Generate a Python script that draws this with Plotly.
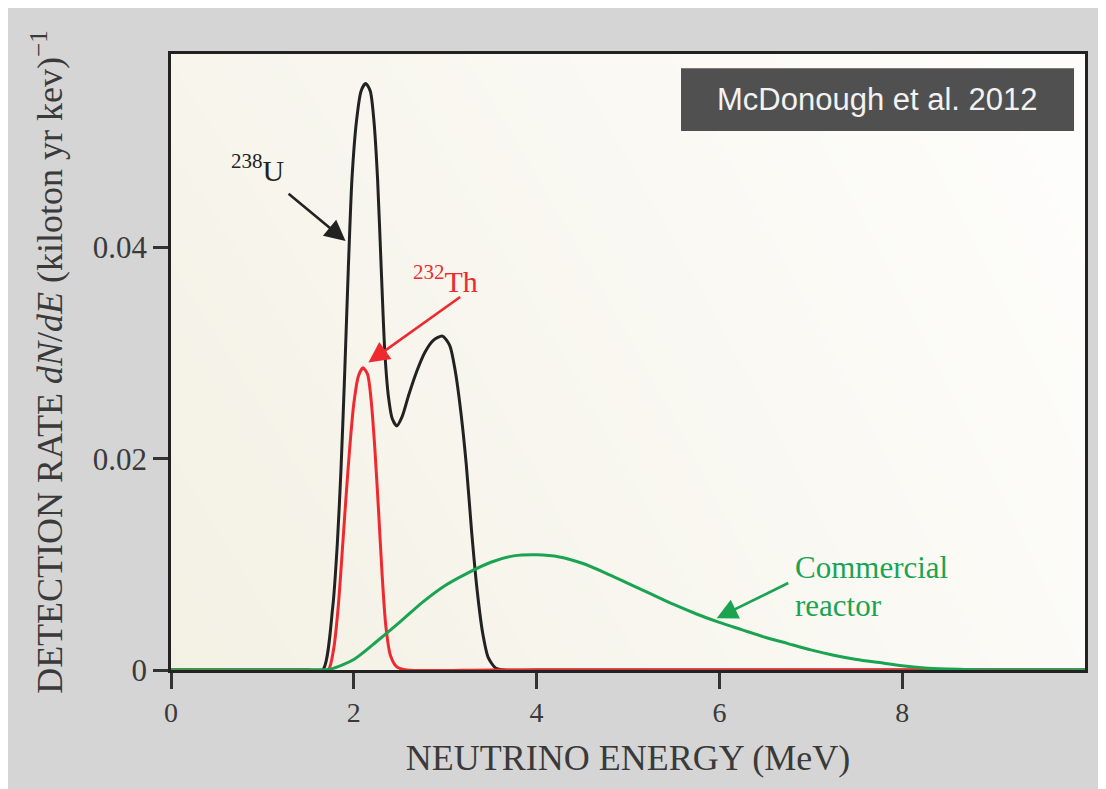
import plotly.graph_objects as go

# --- data ---
u_energy = [0, 1.5, 1.66, 1.77, 1.82, 1.86, 1.90, 1.94, 1.98, 2.03, 2.08, 2.13, 2.18, 2.22,
            2.26, 2.30, 2.34, 2.38, 2.42, 2.47, 2.53, 2.60, 2.69, 2.78, 2.87, 2.97, 3.05,
            3.11, 3.17, 3.23, 3.29, 3.35, 3.41, 3.47, 3.55, 3.65, 4.0, 6.0, 10]
u_rate = [0, 0, 0, 0.006, 0.012, 0.019, 0.028, 0.038, 0.0465, 0.052, 0.0548, 0.0555,
          0.0548, 0.052, 0.0465, 0.038, 0.030, 0.0258, 0.0238, 0.0231, 0.0240, 0.0260,
          0.0283, 0.0301, 0.0312, 0.0316, 0.0307, 0.0283, 0.0245, 0.0195, 0.0130, 0.0075,
          0.0035, 0.0012, 0.0002, 0, 0, 0, 0]

th_energy = [0, 1.6, 1.72, 1.78, 1.83, 1.88, 1.92, 1.96, 2.00, 2.05, 2.10, 2.15, 2.19,
             2.23, 2.27, 2.31, 2.35, 2.40, 2.47, 2.58, 3.5, 6.0, 10]
th_rate = [0, 0, 0, 0.002, 0.006, 0.012, 0.017, 0.0215, 0.0252, 0.0278, 0.0286, 0.0280,
           0.0255, 0.0210, 0.0152, 0.0090, 0.0042, 0.0014, 0.0003, 0, 0, 0, 0]

reactor_energy = [0, 1.0, 1.5, 1.75, 2.0, 2.25, 2.5, 2.75, 3.0, 3.25, 3.5, 3.75, 4.0, 4.25,
                  4.5, 4.75, 5.0, 5.25, 5.5, 5.75, 6.0, 6.25, 6.5, 6.75, 7.0, 7.25, 7.5,
                  7.75, 8.0, 8.25, 8.5, 8.75, 9.0, 9.5, 10]
reactor_rate = [0, 0, 0, 0.0001, 0.001, 0.0027, 0.0045, 0.0064, 0.0080, 0.0092, 0.0102,
                0.0108, 0.0109, 0.0107, 0.0101, 0.0092, 0.0082, 0.0072, 0.0062, 0.0053,
                0.0045, 0.0038, 0.0031, 0.0025, 0.0019, 0.0014, 0.0010, 0.0007, 0.0004,
                0.0002, 0.0001, 0.00003, 0, 0, 0]

x_ticks = [0, 2, 4, 6, 8]
x_ticktext = ["0", "2", "4", "6", "8"]
y_ticks = [0, 0.02, 0.04]
y_ticktext = ["0", "0.02", "0.04"]

X_RANGE = [0, 10]
Y_RANGE = [0, 0.0583]

SERIF = "Liberation Serif"
BLACK = "#222222"
RED = "#ee2a30"
GREEN = "#1aa452"

fig = go.Figure()

# background gradient of the plot area (decoration)
fig.add_trace(go.Heatmap(
    x=[-1, 11], y=[-0.01, 0.07],
    z=[[0.0, 0.75], [0.35, 1.0]],
    colorscale=[[0, "#f2efe1"], [1, "#ffffff"]],
    zsmooth="best", showscale=False, hoverinfo="skip",
))

fig.add_trace(go.Scatter(x=u_energy, y=u_rate, mode="lines", line=dict(color=BLACK, width=3, shape="spline", smoothing=0.7), name="238U"))
fig.add_trace(go.Scatter(x=th_energy, y=th_rate, mode="lines", line=dict(color=RED, width=3, shape="spline", smoothing=0.7), name="232Th"))
fig.add_trace(go.Scatter(x=reactor_energy, y=reactor_rate, mode="lines", line=dict(color=GREEN, width=3, shape="spline", smoothing=0.7), name="reactor"))

ann = []
# labels
ann.append(dict(x=0.95, y=0.0475, xref="x", yref="y", text="<sup>238</sup>U", showarrow=False,
                font=dict(family=SERIF, size=30, color=BLACK)))
ann.append(dict(x=3.0, y=0.0370, xref="x", yref="y", text="<sup>232</sup>Th", showarrow=False,
                font=dict(family=SERIF, size=30, color=RED)))
ann.append(dict(x=6.82, y=0.0097, xref="x", yref="y", text="Commercial", showarrow=False,
                xanchor="left", borderpad=0, font=dict(family=SERIF, size=31, color=GREEN)))
ann.append(dict(x=6.82, y=0.0061, xref="x", yref="y", text="reactor", showarrow=False,
                xanchor="left", borderpad=0, font=dict(family=SERIF, size=31, color=GREEN)))
# arrows
for (tx, ty, hx, hy, col) in [(1.27, 0.0452, 1.91, 0.0406, BLACK),
                              (3.18, 0.0354, 2.16, 0.0291, RED),
                              (6.77, 0.0083, 5.97, 0.0049, GREEN)]:
    ann.append(dict(x=hx, y=hy, ax=tx, ay=ty, xref="x", yref="y", axref="x", ayref="y",
                    text="", showarrow=True, arrowhead=2, arrowsize=1.6, arrowwidth=2.6,
                    arrowcolor=col))
# source box text
ann.append(dict(x=0.773, y=0.926, xref="paper", yref="paper", xanchor="center", yanchor="middle",
                text="McDonough et al. 2012",
                showarrow=False, font=dict(family="Liberation Sans", size=31, color="#f2f2f2")))

shapes = [
    dict(type="rect", xref="paper", yref="paper", x0=0.558, x1=0.988, y0=0.875, y1=0.977,
         fillcolor="#505050", line=dict(width=0), layer="above"),
]

fig.update_layout(
    width=1098, height=781,
    margin=dict(l=163, r=21, t=46, b=119, autoexpand=False),
    paper_bgcolor="#d5d5d5",
    plot_bgcolor="#f6f4ea",
    showlegend=False,
    annotations=ann,
    shapes=shapes,
    font=dict(family=SERIF, color="#3a3a3a"),
)
fig.update_xaxes(
    range=X_RANGE, tickvals=x_ticks, ticktext=x_ticktext, automargin=False,
    showgrid=False, zeroline=False,
    showline=True, linecolor=BLACK, linewidth=2.5, mirror=True,
    ticks="outside", ticklen=16, tickwidth=2.5, tickcolor="#333333",
    tickfont=dict(family=SERIF, size=28, color="#3a3a3a"),
    title=dict(text="NEUTRINO ENERGY (MeV)", font=dict(family=SERIF, size=36, color="#3a3a3a"), standoff=18),
)
fig.update_yaxes(
    range=Y_RANGE, tickvals=y_ticks, ticktext=y_ticktext, automargin=False,
    showgrid=False, zeroline=False,
    showline=True, linecolor=BLACK, linewidth=2.5, mirror=True,
    ticks="outside", ticklen=15, tickwidth=2.5, tickcolor="#333333",
    tickfont=dict(family=SERIF, size=31, color="#3a3a3a"),
    title=dict(text="DETECTION RATE <i>dN</i>/<i>dE</i> (kiloton yr kev)<sup>\u22121</sup>",
               font=dict(family=SERIF, size=36, color="#3a3a3a"), standoff=20),
)

fig.write_html("out.html")
